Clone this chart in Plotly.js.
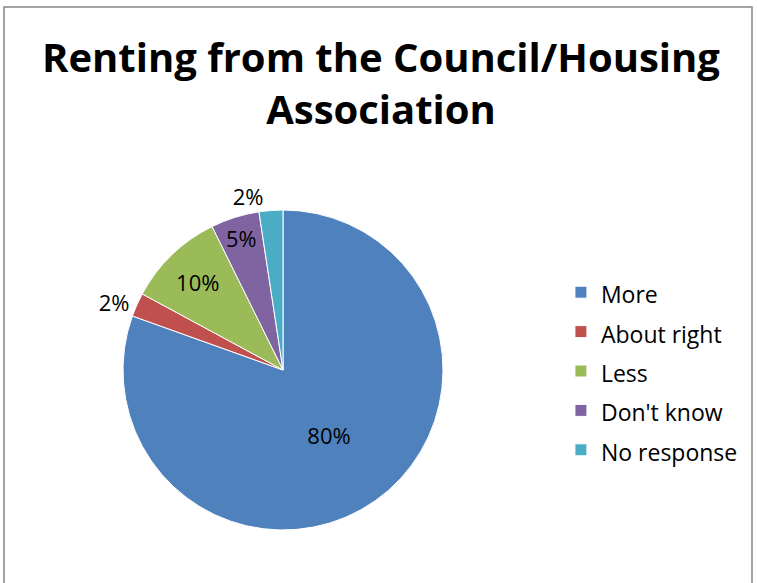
<!DOCTYPE html>
<html>
<head>
<meta charset="utf-8">
<script src="https://cdn.plot.ly/plotly-3.0.1.min.js"></script>
<style>html,body{margin:0;padding:0;background:#fff;}#chart{width:757px;height:583px;}</style>
</head>
<body>
<div id="chart"></div>
<script>
var categories = ["More", "About right", "Less", "Don't know", "No response"];
var values = [80.4, 2.4, 9.8, 4.9, 2.4];
var colors = ["#4F81BD", "#C0504D", "#9BBB59", "#8064A2", "#4BACC6"];
var textPositions = ["inside", "outside", "inside", "inside", "outside"];
var titleText = "Renting from the Council/Housing<br>Association";

var W = 757, H = 583;
var legendLabels = categories.map(function (c) {
  return '<span style="font-size:23px">' + c + '</span>';
});

var trace = {
  type: "pie",
  labels: legendLabels,
  values: values,
  sort: false,
  direction: "clockwise",
  rotation: 0,
  marker: { colors: colors, line: { color: "#ffffff", width: 1 } },
  texttemplate: "%{percent:.0%}",
  textposition: textPositions,
  insidetextorientation: "horizontal",
  textfont: { family: "Open Sans, sans-serif", size: 22, color: "#000000" },
  hoverinfo: "label+percent",
  domain: { x: [123 / W, 443 / W], y: [(H - 530) / H, (H - 210) / H] }
};

var layout = {
  width: W,
  height: H,
  margin: { l: 0, r: 0, t: 0, b: 0 },
  paper_bgcolor: "#ffffff",
  font: { family: "Open Sans, sans-serif", color: "#000000" },
  title: {
    text: titleText,
    font: { family: "Open Sans, sans-serif", size: 40, weight: 700, color: "#000000" },
    x: 381 / W,
    xanchor: "center",
    y: 1 - 72 / H,
    yanchor: "top",
    yref: "container"
  },
  showlegend: true,
  legend: {
    x: 0.741,
    xanchor: "left",
    y: (H - 371) / H,
    yanchor: "middle",
    font: { family: "Open Sans, sans-serif", size: 28, color: "#000000" },
    bgcolor: "rgba(0,0,0,0)"
  },
  shapes: [{
    type: "rect", xref: "paper", yref: "paper",
    x0: 4 / W, x1: 752 / W, y0: -0.05, y1: 1 - 7 / H,
    line: { color: "#868686", width: 1.5 }
  }]
};

Plotly.newPlot("chart", [trace], layout, { displayModeBar: false, staticPlot: true });
</script>
</body>
</html>
